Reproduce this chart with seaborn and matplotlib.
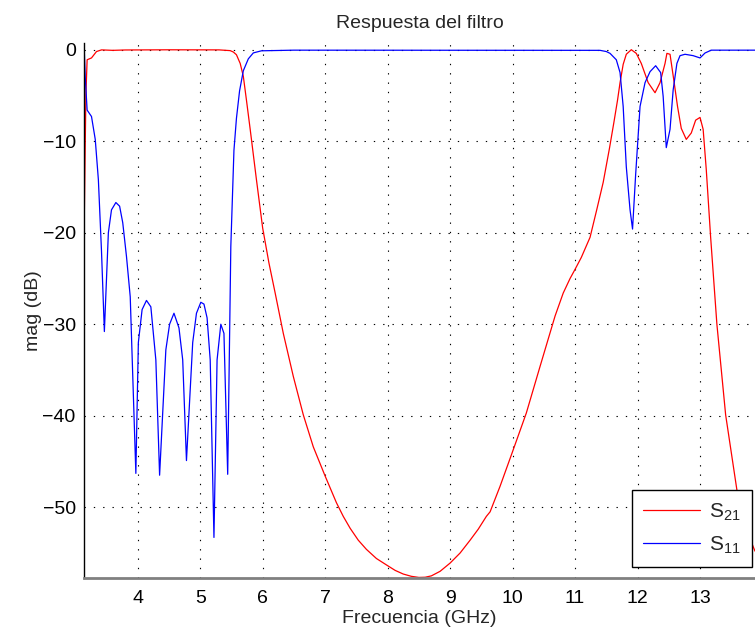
import matplotlib
matplotlib.use("Agg")
import matplotlib.pyplot as plt
import seaborn as sns
import pandas as pd

# ---- data ----
freq_s21 = [3.14, 3.17, 3.19, 3.26, 3.34, 3.42, 3.60, 3.80, 4.50, 5.30, 5.48, 5.53,
            5.58, 5.64, 5.69, 5.74, 5.80, 5.90, 6.00, 6.10, 6.20, 6.33, 6.49, 6.65,
            6.81, 7.00, 7.18, 7.29, 7.40, 7.53, 7.66, 7.82, 7.98, 8.12, 8.25, 8.38,
            8.50, 8.60, 8.70, 8.84, 9.00, 9.16, 9.32, 9.45, 9.58, 9.64, 9.80, 9.99,
            10.10, 10.22, 10.44, 10.68, 10.81, 10.92, 11.00, 11.10, 11.24,
            11.35, 11.45, 11.55, 11.62, 11.68, 11.72, 11.77, 11.82, 11.90, 11.98,
            12.06, 12.17, 12.28, 12.36, 12.44, 12.47, 12.52, 12.58, 12.64, 12.70,
            12.78, 12.86, 12.93, 13.00, 13.05, 13.10, 13.17, 13.27, 13.41, 13.59,
            13.75, 13.85, 13.88]
s21_db = [-20.8, -5.0, -1.1, -0.9, -0.2, -0.02, -0.07, -0.03, -0.01, -0.02, -0.1, -0.25,
          -0.55, -1.5, -2.9, -5.5, -8.7, -14.2, -19.5, -23.3, -26.6, -31.0, -35.7, -39.9,
          -43.4, -46.6, -49.5, -51.0, -52.3, -53.6, -54.6, -55.6, -56.3, -56.9, -57.3, -57.55,
          -57.67, -57.65, -57.5, -57.0, -56.1, -55.0, -53.6, -52.4, -51.0, -50.5, -47.7, -44.1,
          -42.0, -39.7, -34.6, -29.1, -26.6, -25.0, -24.0, -22.7, -20.5,
          -17.4, -14.5, -10.8, -8.0, -5.5, -3.6, -1.6, -0.5, 0.0, -0.4,
          -1.5, -3.6, -4.7, -3.6, -1.5, -0.4, -0.5, -3.3, -6.2, -8.6,
          -9.8, -9.1, -7.7, -7.4, -8.7, -13.1, -20.5, -30.0, -39.9, -48.1,
          -52.5, -54.3, -54.8]

freq_s11 = [3.14, 3.16, 3.19, 3.26, 3.32, 3.37, 3.42, 3.466, 3.53, 3.58, 3.65, 3.71,
            3.76, 3.82, 3.88, 3.97, 4.01, 4.07, 4.14, 4.21, 4.29, 4.35, 4.45, 4.51,
            4.58, 4.66, 4.72, 4.78, 4.88, 4.94, 5.01, 5.06, 5.11, 5.16, 5.22, 5.27,
            5.33, 5.38, 5.44, 5.49, 5.54, 5.58, 5.63, 5.69, 5.77, 5.85, 5.98, 6.50,
            11.40, 11.50, 11.56, 11.66, 11.72, 11.77, 11.82, 11.88, 11.92, 11.97,
            12.04, 12.12, 12.20, 12.29, 12.37, 12.41, 12.46, 12.52, 12.57, 12.63,
            12.68, 12.76, 12.89, 13.00, 13.08, 13.18, 13.88]
s11_db = [0.7, -3.0, -6.6, -7.3, -9.8, -14.2, -22.0, -30.8, -20.0, -17.5, -16.7, -17.1,
          -18.9, -22.6, -27.0, -46.3, -32.0, -28.4, -27.4, -28.1, -33.9, -46.5, -32.8, -30.0,
          -28.8, -30.4, -33.9, -44.9, -32.0, -28.8, -27.6, -27.8, -29.3, -33.9, -53.3, -33.9,
          -30.0, -31.0, -46.4, -21.5, -11.0, -7.5, -4.5, -2.3, -1.0, -0.35, -0.12, -0.05,
          -0.07, -0.2, -0.4, -1.1, -2.5, -6.2, -12.8, -17.5, -19.6, -13.6,
          -6.2, -3.6, -2.4, -1.75, -2.5, -5.1, -10.7, -8.7, -4.4, -1.5,
          -0.65, -0.5, -0.65, -0.9, -0.36, -0.05, -0.05]

x_ticks = [4, 5, 6, 7, 8, 9, 10, 11, 12, 13]
y_ticks = [0, -10, -20, -30, -40, -50]
series_labels = ["$\\mathregular{S_{21}}$", "$\\mathregular{S_{11}}$"]

sns.set_style("white")
plt.rcParams['font.family'] = ['Liberation Sans', 'DejaVu Sans']
plt.rcParams['mathtext.fontset'] = 'custom'
plt.rcParams['mathtext.rm'] = 'Liberation Sans'

fig = plt.figure(figsize=(7.55, 6.31), dpi=100)
ax_w_px = 755 - 84
ax_h_px = 577.7 - 43.3
ax = fig.add_axes([84 / 755, 1 - 577.7 / 631, ax_w_px / 755, ax_h_px / 631])

df21 = pd.DataFrame({"f": freq_s21, "db": s21_db})
df11 = pd.DataFrame({"f": freq_s11, "db": s11_db})
sns.lineplot(data=df21, x="f", y="db", ax=ax, color="#ff0000", linewidth=0.9,
             label=series_labels[0], sort=False, estimator=None)
sns.lineplot(data=df11, x="f", y="db", ax=ax, color="#0000ff", linewidth=0.9,
             label=series_labels[1], sort=False, estimator=None)

ax.set_xlim(3.14, 13.88)
ax.set_ylim(-57.7, 0.7)
ax.set_xticks(x_ticks)
ax.set_yticks(y_ticks)
ax.set_yticklabels(["0" if v == 0 else "\u2212" + str(-v) for v in y_ticks])

ax.grid(True, color="black", linestyle=(0, (1.2, 7.2)), linewidth=0.8)
ax.tick_params(direction="in", length=5, width=0.8, labelsize=14, colors="black",
               pad=6)
ax.tick_params(axis="x", length=7, pad=9)

for s in ["top", "right"]:
    ax.spines[s].set_visible(False)
ax.spines["left"].set_color("black")
ax.spines["left"].set_linewidth(1.0)
ax.spines["bottom"].set_color("#808080")
ax.spines["bottom"].set_linewidth(2.0)

ax.set_title("Respuesta del filtro", fontsize=14, pad=11)
ax.set_xlabel("Frecuencia (GHz)", fontsize=14, labelpad=2)
ax.set_ylabel("mag (dB)", fontsize=14, labelpad=0)

leg = ax.legend(loc="lower right", fontsize=15, frameon=True, fancybox=False,
                edgecolor="black", framealpha=1, handlelength=2.7,
                bbox_to_anchor=(1 - 3 / ax_w_px, 10.7 / ax_h_px),
                borderaxespad=0.0, borderpad=0.55, labelspacing=0.55,
                handletextpad=0.45)
leg.get_frame().set_linewidth(1.0)

fig.savefig("out.png", dpi=100)
